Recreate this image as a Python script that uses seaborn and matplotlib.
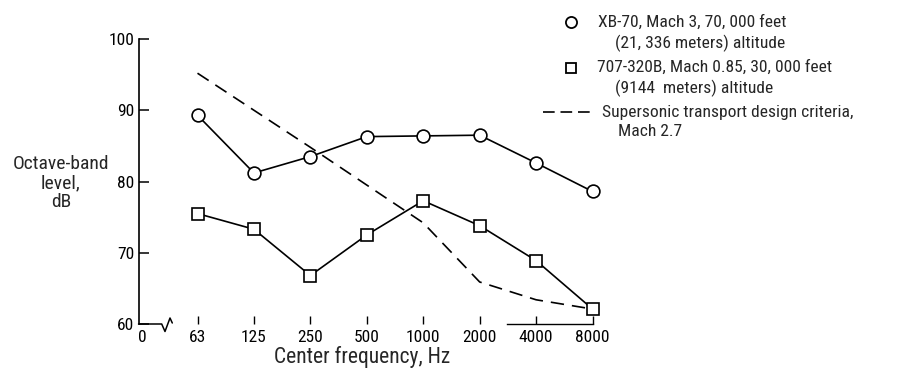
import numpy as np
import pandas as pd
import matplotlib
matplotlib.use("Agg")
import matplotlib.pyplot as plt
from matplotlib import font_manager
from matplotlib.lines import Line2D
import seaborn as sns

# ---------------- data ----------------
freq_labels = ["63", "125", "250", "500", "1000", "2000", "4000", "8000"]
xb70_db = [89.3, 81.2, 83.5, 86.3, 86.4, 86.5, 82.6, 78.6]
b707_db = [75.5, 73.3, 66.8, 72.5, 77.3, 73.8, 68.9, 62.1]
sst_db = [95.2, 90.0, 84.8, 79.5, 74.2, 65.9, 63.4, 62.1]
y_ticks = [60, 70, 80, 90, 100]

legend_xb70 = ["XB-70, Mach 3, 70, 000 feet", "(21, 336 meters) altitude"]
legend_707 = ["707-320B, Mach 0.85, 30, 000 feet", "(9144  meters) altitude"]
legend_sst = ["Supersonic transport design criteria,", "Mach 2.7"]
y_label = "Octave-band\nlevel,\ndB"
x_label = "Center frequency, Hz"
zero_label = "0"

# ---------------- style ----------------
sns.set_style("white")
available = {f.name for f in font_manager.fontManager.ttflist}
family = "DejaVu Sans"
for cand in ["Liberation Sans Narrow", "Roboto Condensed", "Open Sans Condensed", "Liberation Sans"]:
    if cand in available:
        family = cand
        break
plt.rcParams["font.family"] = [family, "DejaVu Sans"]
FS_TICK = 12.5
FS_LEG = 12.6
FS_YLAB = 14.0
FS_XLAB = 15.5

W, H = 916, 369
fig = plt.figure(figsize=(W / 100, H / 100), dpi=100)

# pixel geometry
x0_px, dx_px = 197.5, 56.43          # category 0 position and spacing
ax_left_px, ax_right_px = 138.5, 610
y100_px, y60_px = 39.0, 324.0
xl = (ax_left_px - x0_px) / dx_px
xr = (ax_right_px - x0_px) / dx_px
ax = fig.add_axes([ax_left_px / W, (H - y60_px) / H,
                   (ax_right_px - ax_left_px) / W, (y60_px - y100_px) / H])
ax.set_facecolor("none")

pos = np.arange(len(freq_labels))
df = pd.DataFrame({"pos": pos, "xb70": xb70_db, "b707": b707_db, "sst": sst_db})

LW = 1.2
sns.lineplot(data=df, x="pos", y="sst", ax=ax, color="black", lw=LW,
             dashes=False, linestyle=(0, (8.0, 4.8)), zorder=2)
sns.lineplot(data=df, x="pos", y="xb70", ax=ax, color="black", lw=LW,
             marker="o", markersize=9.2, markerfacecolor="white",
             markeredgecolor="black", markeredgewidth=1.2, zorder=3)
sns.lineplot(data=df, x="pos", y="b707", ax=ax, color="black", lw=LW,
             marker="s", markersize=8.6, markerfacecolor="white",
             markeredgecolor="black", markeredgewidth=1.2, zorder=3)

ax.set_xlim(xl, xr)
ax.set_ylim(60, 100)
ax.set_xlabel("")
ax.set_ylabel("")

# x ticks (with extra "0" at the origin, no tick mark)
zero_pos = (142 - x0_px) / dx_px
ax.set_xticks([zero_pos] + list(pos))
ax.set_xticklabels([zero_label] + freq_labels, fontsize=FS_TICK)
ax.tick_params(axis="x", direction="in", length=6, width=1.0, pad=4.0,
               colors="black", bottom=True)
ax.xaxis.get_major_ticks()[0].tick1line.set_visible(False)

ax.set_yticks(y_ticks)
ax.set_yticklabels([str(v) for v in y_ticks], fontsize=FS_TICK)
ax.tick_params(axis="y", direction="in", length=7.5, width=1.1, pad=3,
               colors="black", left=True)

for s in ["top", "right"]:
    ax.spines[s].set_visible(False)
ax.spines["left"].set_color("black")
ax.spines["left"].set_linewidth(1.2)
ax.spines["left"].set_bounds(60, 100)
ax.spines["bottom"].set_color("black")
ax.spines["bottom"].set_linewidth(1.0)
ax.spines["bottom"].set_bounds((507 - x0_px) / dx_px, 7)

# axis break near origin
def px2data(px, py):
    return (px - x0_px) / dx_px, 100 - (py - y100_px) * 40 / (y60_px - y100_px)

brk = [px2data(*p) for p in [(138.5, 324), (161.7, 324), (165, 331.5), (170, 318), (172.3, 323)]]
ax.add_line(Line2D([p[0] for p in brk], [p[1] for p in brk], color="black",
                   lw=1.1, clip_on=False))

# axis labels
fig.text(61 / W, 1 - 183 / H, y_label, ha="center", va="center",
         multialignment="center", fontsize=FS_YLAB, linespacing=1.1)
fig.text(362 / W, 1 - 357 / H, x_label, ha="center", va="center", fontsize=FS_XLAB)

# manual legend
def fy(py):
    return 1 - py / H

fig.add_artist(Line2D([571 / W], [fy(22)], marker="o", markersize=8,
                      markerfacecolor="white", markeredgecolor="black",
                      markeredgewidth=1.3, lw=0))
fig.add_artist(Line2D([571 / W], [fy(68)], marker="s", markersize=7.5,
                      markerfacecolor="white", markeredgecolor="black",
                      markeredgewidth=1.3, lw=0))
fig.add_artist(Line2D([543 / W, 592 / W], [fy(112), fy(112)], color="black",
                      lw=1.2, linestyle=(0, (7.0, 3.5))))

for txt, px, py in [(legend_xb70[0], 598, 22), (legend_xb70[1], 615, 43),
                    (legend_707[0], 597, 67), (legend_707[1], 615, 88),
                    (legend_sst[0], 602, 112), (legend_sst[1], 618, 132)]:
    fig.text(px / W, fy(py), txt, ha="left", va="center", fontsize=FS_LEG)

fig.savefig("out.png", dpi=100, facecolor="white")
